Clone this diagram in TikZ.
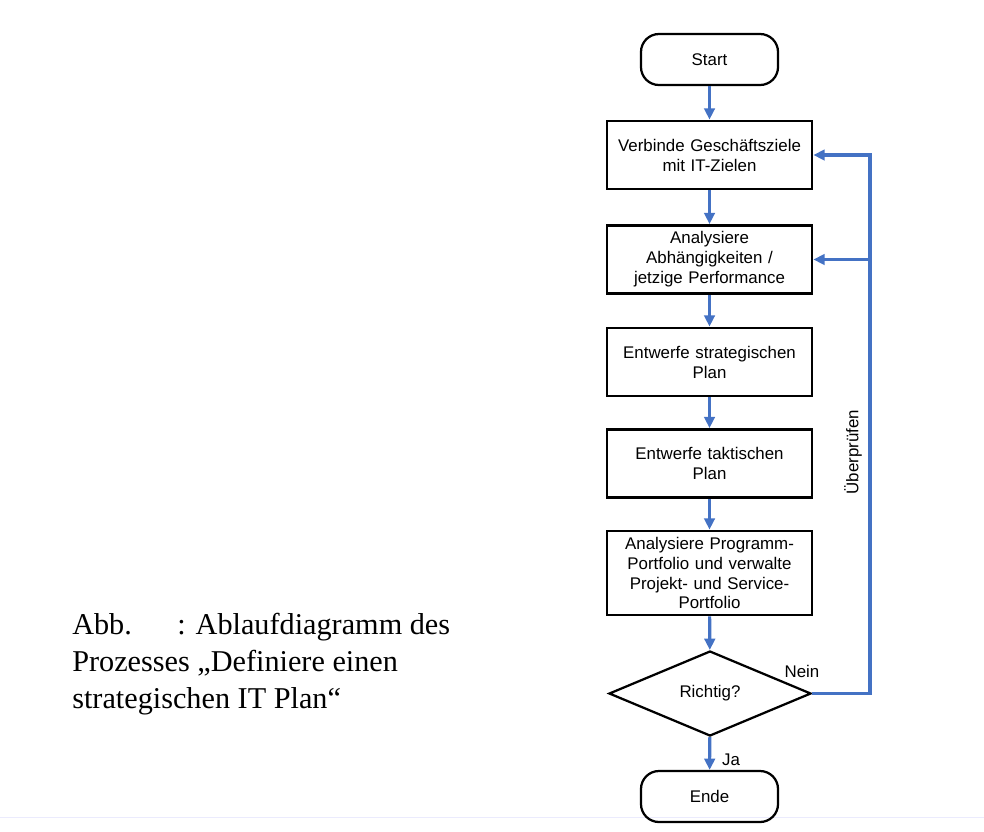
\documentclass[tikz,border=0pt]{standalone}
\usepackage{fontspec}
\setmainfont{Liberation Serif}
\newfontfamily\flowfont{Liberation Sans}
\usetikzlibrary{shapes.geometric,arrows.meta}
\definecolor{flowblue}{HTML}{4472C4}

\begin{document}
\begin{tikzpicture}[x=0.025cm,y=-0.025cm,>={Triangle[length=8pt,width=7.5pt]},
    box/.style={rectangle,draw,line width=2pt,minimum width=5.125cm,minimum height=1.7cm,text width=4.8cm,align=center,font=\flowfont\fontsize{12}{14.2}\selectfont},
    term/.style={rectangle,rounded corners=0.45cm,draw,line width=1.6pt,minimum width=3.425cm,minimum height=1.275cm,font=\flowfont\fontsize{12}{14.2}\selectfont},
    decision/.style={diamond,draw,line width=1.6pt,aspect=2.4,inner sep=0pt,minimum width=5.05cm,minimum height=2.125cm,font=\flowfont\fontsize{12}{14.2}\selectfont},
    flow/.style={->,draw=flowblue,line width=2.2pt},
    lbl/.style={font=\flowfont\fontsize{12}{14.2}\selectfont}]

\useasboundingbox (0,0) rectangle (984,831);
\draw[line width=0.6pt,color=black!8!blue!8] (0,817) -- (984,817);

\node[term] (start) at (709.5,59.5) {Start};
\node[box] (b1) at (709.5,155) {Verbinde Geschäftsziele\\mit IT-Zielen};
\node[box] (b2) at (709.5,259.5) {Analysiere\\Abhängigkeiten /\\jetzige Performance};
\node[box] (b3) at (709.5,362) {Entwerfe strategischen\\Plan};
\node[box] (b4) at (709.5,463.5) {Entwerfe taktischen\\Plan};
\node[box,minimum height=2.1cm] (b5) at (709.5,573) {Analysiere Programm-\\Portfolio und verwalte\\Projekt- und Service-\\Portfolio};
\node[decision] (dec) at (710,693.5) {Richtig?};
\node[term] (ende) at (709.5,796.5) {Ende};

\coordinate (rt) at (870,155);
\coordinate (rm) at (870,259.5);

\draw[flow] (start) -- (b1);
\draw[flow] (b1) -- (b2);
\draw[flow] (b2) -- (b3);
\draw[flow] (b3) -- (b4);
\draw[flow] (b4) -- (b5);
\draw[flow] (b5) -- (dec);
\draw[flow] (dec) -- (ende);
\draw[flow] (dec.east) -| (rt) -- (b1.east);
\draw[flow] (rm) -- (b2.east);

\node[lbl] (nein) at (802,671) {Nein};
\node[lbl] (ja) at (731,760) {Ja};
\node[lbl,rotate=90] (pruef) at (853,452) {Überprüfen};

% caption
\node[anchor=north west,inner sep=0pt,align=left,font=\fontsize{21.5}{26.3}\selectfont] (cap) at (72,612.5)
  {Abb.\hspace{1.5em}: Ablaufdiagramm des\\Prozesses „Definiere einen\\strategischen IT Plan“};
\end{tikzpicture}
\end{document}
